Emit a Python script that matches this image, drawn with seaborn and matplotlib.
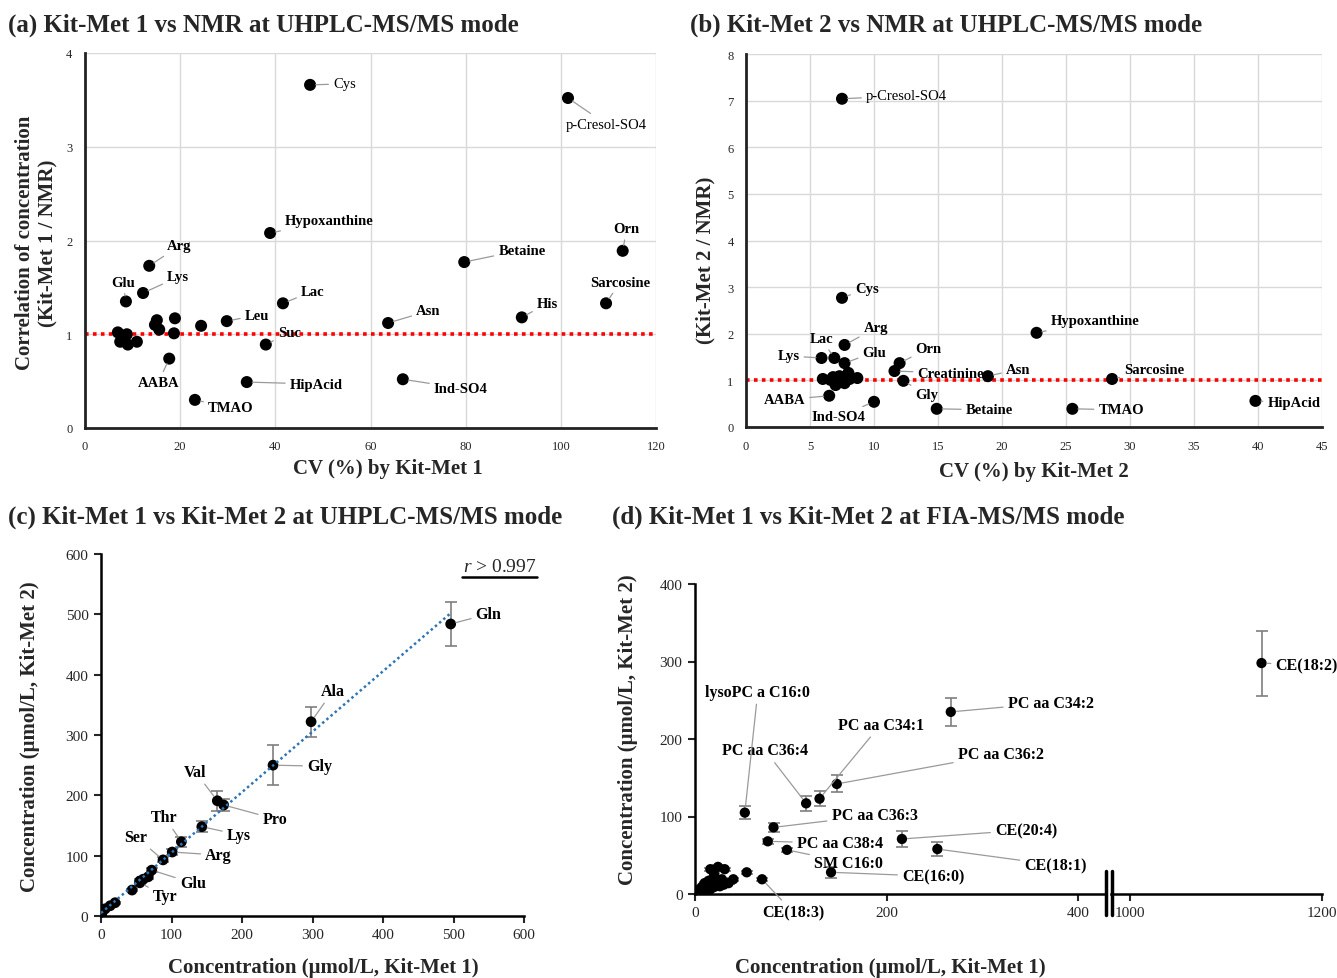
import numpy as np
import pandas as pd
import matplotlib
matplotlib.use("Agg")
import matplotlib.pyplot as plt
import seaborn as sns
from matplotlib.lines import Line2D

# ---------------- data ----------------
a_names = ["Cys", "p-Cresol-SO4", "Hypoxanthine", "Orn", "Betaine", "Arg", "Lys", "Glu", "Lac",
           "Sarcosine", "His", "Asn", "Leu", "Suc", "AABA", "HipAcid", "TMAO", "Ind-SO4",
           "", "", "", "", "", "", "", "", "", "", ""]
a_cv = [47.3, 101.5, 38.9, 113.0, 79.7, 13.5, 12.2, 8.6, 41.6, 109.5, 91.8, 63.7, 29.8, 38.0, 17.7,
        34.0, 23.1, 66.8, 6.9, 8.8, 7.4, 9.0, 10.9, 15.1, 14.7, 15.6, 18.9, 18.7, 24.4]
a_ratio = [3.66, 3.52, 2.08, 1.89, 1.77, 1.73, 1.44, 1.35, 1.33, 1.33, 1.18, 1.12, 1.14, 0.89, 0.74,
           0.49, 0.30, 0.52, 1.02, 1.00, 0.92, 0.89, 0.92, 1.15, 1.10, 1.05, 1.17, 1.01, 1.09]

b_names = ["p-Cresol-SO4", "Cys", "Arg", "Lac", "Lys", "Glu", "Orn", "Creatinine", "Gly", "AABA",
           "Ind-SO4", "Betaine", "Asn", "Hypoxanthine", "Sarcosine", "TMAO", "HipAcid",
           "", "", "", "", "", "", "", "", "", ""]
b_cv = [7.5, 7.5, 7.7, 6.9, 5.9, 7.7, 12.0, 11.6, 12.3, 6.5, 10.0, 14.9, 18.9, 22.7, 28.6, 25.5, 39.8,
        6.0, 6.8, 7.3, 8.0, 8.7, 7.0, 7.7, 8.1, 6.6, 7.3]
b_ratio = [7.04, 2.77, 1.76, 1.48, 1.48, 1.37, 1.37, 1.20, 0.99, 0.67, 0.54, 0.39, 1.09, 2.02, 1.03,
           0.39, 0.56, 1.03, 1.07, 1.09, 1.16, 1.05, 0.90, 0.94, 1.03, 1.01, 0.97]

c_names = ["Gln", "Ala", "Gly", "Val", "Pro", "Lys", "Thr", "Arg", "Ser", "Glu", "Tyr",
           "", "", "", "", "", "", "", "", ""]
c_kit1 = [496, 298, 244, 165, 174, 143, 114, 101, 88, 72, 55, 67, 60, 55, 44, 20, 13, 6, 2, 0.5]
c_kit2 = [484, 322, 250, 191, 184, 148, 123, 106, 93, 76, 55, 65, 61, 58, 43, 22, 17, 12, 7, 2]
c_err = [36, 25, 33, 17, 10, 9, 8, 5, 4, 3, 3, 3, 3, 3, 2, 2, 1, 1, 1, 1]

d_names = ["CE(18:2)", "PC aa C34:2", "PC aa C36:2", "PC aa C34:1", "PC aa C36:4", "lysoPC a C16:0",
           "PC aa C36:3", "PC aa C38:4", "SM C16:0", "CE(20:4)", "CE(18:1)", "CE(16:0)", "CE(18:3)",
           "", "", "", "", "", "", "", "", "", "", "", "", "", "", "", "", "", "", "", "", "", "", "", ""]
d_kit1 = [1137, 267, 148, 130, 116, 52, 82, 76, 96, 216, 253, 142, 70,
          54, 16, 24, 31, 20, 28, 40, 10, 18, 26, 5, 2, 16, 21, 7, 14, 3, 6, 9, 12, 20, 25, 30, 35]
d_kit2 = [298, 235, 142, 123, 117, 105, 86, 68, 57, 71, 58, 28, 19,
          28, 32, 35, 32, 25, 19, 19, 14, 12, 10, 6, 3, 6, 14, 9, 17, 2, 4, 5, 7, 9, 11, 12, 14]
d_err = [42, 18, 11, 10, 10, 8, 6, 3, 3, 10, 9, 7, 2,
         2, 2, 2, 2, 2, 2, 2, 1, 1, 1, 1, 1, 1, 1, 1, 1, 1, 1, 1, 1, 1, 1, 1, 1]

# ---------------- label offsets (pixels: dx, dy-up, ha, weight) ----------------
a_off = {"Cys": (23, 1, "left", "normal"), "p-Cresol-SO4": (38, -26, "center", "normal"),
         "Hypoxanthine": (15, 12, "left", "bold"), "Orn": (4, 22, "center", "bold"),
         "Betaine": (34, 12, "left", "bold"), "Arg": (18, 20, "left", "bold"),
         "Lys": (24, 16, "left", "bold"), "Glu": (-3, 19, "center", "bold"),
         "Lac": (18, 12, "left", "bold"), "Sarcosine": (14, 21, "center", "bold"),
         "His": (15, 14, "left", "bold"), "Asn": (28, 12, "left", "bold"),
         "Leu": (18, 6, "left", "bold"), "Suc": (12, 12, "left", "bold"),
         "AABA": (-11, -24, "center", "bold"), "HipAcid": (43, -2, "left", "bold"),
         "TMAO": (13, -8, "left", "bold"), "Ind-SO4": (31, -9, "left", "bold")}
b_off = {"p-Cresol-SO4": (24, 3, "left", "normal"), "Cys": (13, 9, "left", "bold"),
         "Arg": (19, 17, "left", "bold"), "Lac": (-13, 19, "center", "bold"),
         "Lys": (-22, 2, "right", "bold"), "Glu": (18, 11, "left", "bold"),
         "Orn": (16, 15, "left", "bold"), "Creatinine": (23, -2, "left", "bold"),
         "Gly": (12, -14, "left", "bold"), "AABA": (-24, -4, "right", "bold"),
         "Ind-SO4": (-36, -15, "center", "bold"), "Betaine": (29, -1, "left", "bold"),
         "Asn": (18, 7, "left", "bold"), "Hypoxanthine": (14, 12, "left", "bold"),
         "Sarcosine": (12, 9, "left", "bold"), "TMAO": (26, -1, "left", "bold"),
         "HipAcid": (12, -2, "left", "bold")}
c_off = {"Gln": (25, 10, "left"), "Ala": (22, 31, "center"), "Gly": (34, -1, "left"),
         "Val": (-22, 29, "center"), "Pro": (39, -14, "left"), "Lys": (25, -8, "left"),
         "Thr": (-17, 25, "center"), "Arg": (33, -3, "left"), "Ser": (-27, 23, "center"),
         "Glu": (28, -13, "left"), "Tyr": (13, -13, "left")}
d_off = {"CE(18:2)": (14, -2, "left"), "PC aa C34:2": (57, 9, "left"),
         "PC aa C36:2": (121, 30, "left"), "PC aa C34:1": (18, 74, "left"),
         "PC aa C36:4": (-41, 53, "center"), "lysoPC a C16:0": (13, 121, "center"),
         "PC aa C36:3": (58, 12, "left"), "PC aa C38:4": (29, -2, "left"),
         "SM C16:0": (27, -13, "left"), "CE(16:0)": (71, -4, "left"),
         "CE(20:4)": (93, 9, "left"), "CE(18:1)": (87, -16, "left"),
         "CE(18:3)": (31, -33, "center")}

# ---------------- style ----------------
sns.set_theme(style="white")
FONT = ["Liberation Serif", "DejaVu Serif"]
plt.rcParams["font.family"] = FONT
plt.rcParams["mathtext.fontset"] = "custom"
plt.rcParams["mathtext.rm"] = "Liberation Serif"
plt.rcParams["mathtext.it"] = "Liberation Serif:italic"
plt.rcParams["mathtext.bf"] = "Liberation Serif:bold"

W, H = 1337, 979
fig = plt.figure(figsize=(W / 100, H / 100), dpi=100)


def rect(l, t, r, b):
    return [l / W, 1 - b / H, (r - l) / W, (b - t) / H]


def ftext(x, y, s, **kw):
    fig.text(x / W, 1 - y / H, s, **kw)


LEAD = "#9a9a9a"
EBAR = "#7f7f7f"


def add_label(ax, x, y, name, dx, dy, ha, weight="bold", size=10.5):
    ax.annotate(name, (x, y), xytext=(dx, dy), textcoords="offset pixels", ha=ha, va="center",
                fontsize=size, fontweight=weight, color="black",
                arrowprops=dict(arrowstyle="-", color=LEAD, lw=0.9, shrinkA=1, shrinkB=4))


def style_grid_axes(ax):
    ax.grid(True, color="#d9d9d9", lw=1.0)
    ax.set_axisbelow(True)
    for s in ["top", "right"]:
        ax.spines[s].set_visible(False)
    for s in ["left", "bottom"]:
        ax.spines[s].set_color("#222222")
        ax.spines[s].set_linewidth(2.0)
    ax.tick_params(length=0, labelsize=9, pad=9)
    ax.set_xlabel("")
    ax.set_ylabel("")


# ---------------- panel (a) ----------------
dfa = pd.DataFrame({"name": a_names, "cv": a_cv, "ratio": a_ratio})
axa = fig.add_axes(rect(85, 54, 656, 429))
sns.scatterplot(data=dfa, x="cv", y="ratio", color="black", s=75, edgecolor="none", ax=axa, zorder=3)
axa.axhline(1.0, color="#ff0000", ls=(0, (1, 1.2)), lw=2.6, zorder=2)
axa.set_xlim(0, 120)
axa.set_ylim(0, 4)
axa.set_xticks(range(0, 121, 20))
axa.set_yticks(range(0, 5))
style_grid_axes(axa)
for _, r in dfa.iterrows():
    if r["name"]:
        dx, dy, ha, wt = a_off[r["name"]]
        add_label(axa, r["cv"], r["ratio"], r["name"], dx, dy, ha, wt)

# ---------------- panel (b) ----------------
dfb = pd.DataFrame({"name": b_names, "cv": b_cv, "ratio": b_ratio})
axb = fig.add_axes(rect(746, 55, 1322, 428))
sns.scatterplot(data=dfb, x="cv", y="ratio", color="black", s=75, edgecolor="none", ax=axb, zorder=3)
axb.axhline(1.0, color="#ff0000", ls=(0, (1, 1.2)), lw=2.6, zorder=2)
axb.set_xlim(0, 45)
axb.set_ylim(0, 8)
axb.set_xticks(range(0, 46, 5))
axb.set_yticks(range(0, 9))
style_grid_axes(axb)
for _, r in dfb.iterrows():
    if r["name"]:
        dx, dy, ha, wt = b_off[r["name"]]
        add_label(axb, r["cv"], r["ratio"], r["name"], dx, dy, ha, wt)

# ---------------- panel (c) ----------------
dfc = pd.DataFrame({"name": c_names, "k1": c_kit1, "k2": c_kit2, "err": c_err})
axc = fig.add_axes(rect(101, 555, 524, 917))
axc.errorbar(dfc["k1"], dfc["k2"], yerr=dfc["err"], fmt="none", ecolor=EBAR, elinewidth=1.2,
             capsize=4, capthick=1.2, zorder=2)
slope, icpt = np.polyfit(dfc["k1"], dfc["k2"], 1)
fx = np.array([0, max(c_kit1)])
sns.lineplot(x=fx, y=slope * fx + icpt, color="#2E75B6", lw=1.8, ls=(0, (1, 1.2)), ax=axc, zorder=4)
sns.scatterplot(data=dfc, x="k1", y="k2", color="black", s=60, edgecolor="none", ax=axc, zorder=3)
axc.set_xlim(0, 600)
axc.set_ylim(0, 600)
axc.set_xticks(range(0, 601, 100))
axc.set_yticks(range(0, 601, 100))
for s in ["top", "right"]:
    axc.spines[s].set_visible(False)
for s in ["left", "bottom"]:
    axc.spines[s].set_color("black")
    axc.spines[s].set_linewidth(1.8)
axc.tick_params(direction="out", length=5, width=1.5, labelsize=11, pad=4, left=True, bottom=True)
axc.set_xlabel("")
axc.set_ylabel("")
for _, r in dfc.iterrows():
    if r["name"]:
        dx, dy, ha = c_off[r["name"]]
        add_label(axc, r["k1"], r["k2"], r["name"], dx, dy, ha, "bold", 11.5)
ftext(537, 568, r"$\mathit{r}$ > 0.997", ha="right", va="center", fontsize=14)
fig.add_artist(Line2D([462 / W, 537 / W], [1 - 578 / H, 1 - 578 / H], color="black", lw=1.8))

# ---------------- panel (d) ----------------
dfd = pd.DataFrame({"name": d_names, "k1": d_kit1, "k2": d_kit2, "err": d_err})
left_lim = (0, (1105 - 695) / 0.958)
right_lim = (1000 - (1130 - 1111) / 0.96, 1200)
axd1 = fig.add_axes(rect(695, 585, 1105, 895))
axd2 = fig.add_axes(rect(1111, 585, 1322, 895))
for ax, lim in [(axd1, left_lim), (axd2, right_lim)]:
    sub = dfd[(dfd["k1"] >= lim[0]) & (dfd["k1"] <= lim[1])]
    ax.errorbar(sub["k1"], sub["k2"], yerr=sub["err"], fmt="none", ecolor=EBAR,
                elinewidth=1.2, capsize=4, capthick=1.2, zorder=2)
    sns.scatterplot(data=sub, x="k1", y="k2", color="black", s=55, edgecolor="none", ax=ax, zorder=3)
    ax.set_xlim(*lim)
    ax.set_ylim(0, 400)
    ax.set_xlabel("")
    ax.set_ylabel("")
    for s in ["top", "right"]:
        ax.spines[s].set_visible(False)
    ax.spines["bottom"].set_color("black")
    ax.spines["bottom"].set_linewidth(1.8)
    ax.patch.set_alpha(0)
    for _, r in sub.iterrows():
        if r["name"]:
            dx, dy, ha = d_off[r["name"]]
            add_label(ax, r["k1"], r["k2"], r["name"], dx, dy, ha, "bold", 11.5)
axd1.spines["left"].set_color("black")
axd1.spines["left"].set_linewidth(1.8)
axd1.set_xticks([0, 200, 400])
axd1.set_yticks(range(0, 401, 100))
axd1.tick_params(direction="out", length=5, width=1.5, labelsize=11, pad=4, left=True, bottom=True)
axd2.spines["left"].set_visible(False)
axd2.set_xticks([1000, 1200])
axd2.set_yticks([])
axd2.tick_params(direction="out", length=5, width=1.5, labelsize=11, pad=4, bottom=True)
for bx in (1106, 1112):
    fig.add_artist(Line2D([bx / W, bx / W], [1 - 872 / H, 1 - 916 / H], color="black", lw=2.5))

# ---------------- titles & axis labels ----------------
tkw = dict(fontsize=18, fontweight="bold", va="center", ha="left")
ftext(8, 25, "(a) Kit-Met 1 vs NMR at UHPLC-MS/MS mode", **tkw)
ftext(690, 25, "(b) Kit-Met 2 vs NMR at UHPLC-MS/MS mode", **tkw)
ftext(8, 517, "(c) Kit-Met 1 vs Kit-Met 2 at UHPLC-MS/MS mode", **tkw)
ftext(612, 517, "(d) Kit-Met 1 vs Kit-Met 2 at FIA-MS/MS mode", **tkw)

lkw = dict(fontsize=15, fontweight="bold", va="center", ha="center")
ftext(388, 469, "CV (%) by Kit-Met 1", **lkw)
ftext(1034, 472, "CV (%) by Kit-Met 2", **lkw)
ftext(36, 243, "Correlation of concentration\n(Kit-Met 1 / NMR)", rotation=90, linespacing=1.15, **lkw)
ftext(705, 260, "(Kit-Met 2 / NMR)", rotation=90, **lkw)
ftext(323, 968, "Concentration (μmol/L, Kit-Met 1)", **lkw)
ftext(30, 737, "Concentration (μmol/L, Kit-Met 2)", rotation=90, **lkw)
ftext(890, 968, "Concentration (μmol/L, Kit-Met 1)", **lkw)
ftext(628, 730, "Concentration (μmol/L, Kit-Met 2)", rotation=90, **lkw)

fig.savefig("out.png", dpi=100, facecolor="white")
